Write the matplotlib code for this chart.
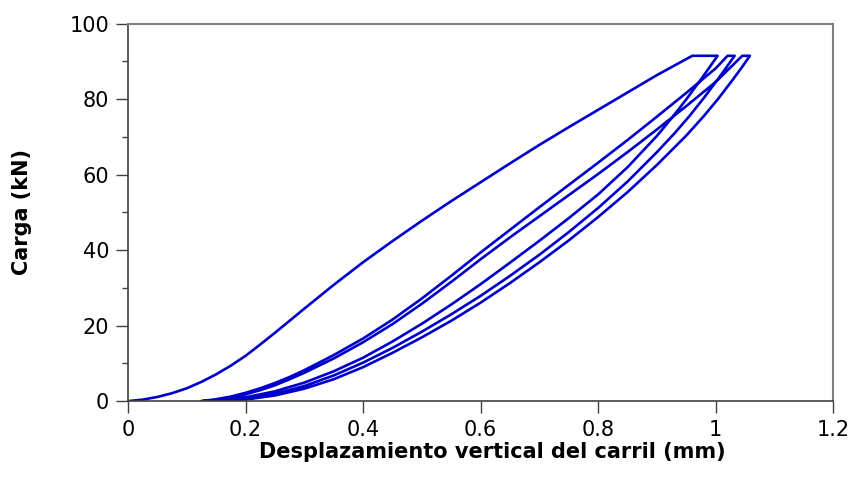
import numpy as np
import matplotlib.pyplot as plt

# first loading up to the peak load
x_load1 = [0, 0.025, 0.05, 0.075, 0.1, 0.125, 0.15, 0.175, 0.2, 0.225, 0.25, 0.275,
           0.3, 0.35, 0.4, 0.45, 0.5, 0.55, 0.6, 0.65, 0.7, 0.75, 0.8, 0.85, 0.9, 0.96]
y_load1 = [0, 0.4, 1.1, 2.1, 3.4, 5.1, 7.1, 9.4, 12.0, 15.0, 18.1, 21.3,
           24.5, 30.8, 36.8, 42.4, 47.8, 53.0, 58.0, 63.0, 67.9, 72.6, 77.2, 81.8, 86.4, 91.5]

# hold at peak load, then unloading
x_hold1 = [0.96, 1.003]
y_hold1 = [91.5, 91.5]
x_unl1 = [1.003, 0.99, 0.975, 0.95, 0.925, 0.9, 0.85, 0.8, 0.75, 0.7, 0.65, 0.6,
          0.55, 0.5, 0.45, 0.4, 0.35, 0.3, 0.25, 0.2, 0.175, 0.15, 0.125]
y_unl1 = [91.5, 88.6, 85.3, 80.0, 75.0, 70.3, 62.0, 54.8, 48.5, 42.5, 36.7, 31.0,
          25.6, 20.5, 15.8, 11.5, 7.9, 4.9, 2.6, 1.0, 0.5, 0.2, 0]

# second cycle
x_rel2 = [0.125, 0.15, 0.175, 0.2, 0.225, 0.25, 0.275, 0.3, 0.35, 0.4, 0.45, 0.5,
          0.55, 0.6, 0.65, 0.7, 0.75, 0.8, 0.85, 0.9, 0.95, 1.0, 1.02]
y_rel2 = [0, 0.5, 1.2, 2.2, 3.4, 4.8, 6.4, 8.2, 12.2, 16.6, 21.6, 27.2,
          33.2, 39.4, 45.4, 51.4, 57.3, 63.2, 69.2, 75.4, 81.7, 88.2, 91.5]
x_hold2 = [1.02, 1.032]
y_hold2 = [91.5, 91.5]
x_unl2 = [1.032, 1.02, 1.005, 0.98, 0.955, 0.93, 0.9, 0.85, 0.8, 0.75, 0.7, 0.65,
          0.6, 0.55, 0.5, 0.45, 0.4, 0.35, 0.3, 0.25, 0.2, 0.18, 0.16]
y_unl2 = [91.5, 88.9, 85.6, 80.4, 75.5, 71.0, 66.0, 58.2, 51.2, 44.8, 38.8, 33.2,
          27.9, 23.0, 18.4, 14.1, 10.2, 6.8, 4.0, 1.9, 0.6, 0.2, 0]

# third cycle
x_rel3 = [0.16, 0.2, 0.225, 0.25, 0.275, 0.3, 0.35, 0.4, 0.45, 0.5, 0.55, 0.6,
          0.65, 0.7, 0.75, 0.8, 0.85, 0.9, 0.95, 1.0, 1.045]
y_rel3 = [0, 1.8, 2.9, 4.2, 5.8, 7.5, 11.3, 15.6, 20.4, 25.8, 31.6, 37.6,
          43.4, 49.0, 54.6, 60.2, 66.0, 72.0, 78.2, 84.6, 91.5]
x_hold3 = [1.045, 1.058]
y_hold3 = [91.5, 91.5]
x_unl3 = [1.058, 1.045, 1.03, 1.005, 0.98, 0.95, 0.9, 0.85, 0.8, 0.75, 0.7, 0.65,
          0.6, 0.55, 0.5, 0.45, 0.4, 0.35, 0.3, 0.25, 0.2, 0.18]
y_unl3 = [91.5, 88.6, 85.4, 80.3, 75.6, 70.4, 62.6, 55.4, 48.8, 42.6, 36.8, 31.3,
          26.1, 21.3, 16.9, 12.8, 9.0, 5.8, 3.3, 1.5, 0.4, 0]

xs = [x_load1, x_hold1, x_unl1, x_rel2, x_hold2, x_unl2, x_rel3, x_hold3, x_unl3]
ys = [y_load1, y_hold1, y_unl1, y_rel2, y_hold2, y_unl2, y_rel3, y_hold3, y_unl3]
desp = np.concatenate(xs)
carga = np.concatenate(ys)

plt.rcParams['font.family'] = ['DejaVu Sans']

fig = plt.figure(figsize=(8.53, 4.94), dpi=100)
ax = fig.add_axes([0.150, 0.188, 0.827, 0.764])

ax.plot(desp, carga, color='#0000cc', lw=1.9)

ax.set_xlim(0, 1.2)
ax.set_ylim(0, 100)
ax.set_xticks(np.arange(0, 1.21, 0.2))
ax.set_xticklabels(['0', '0.2', '0.4', '0.6', '0.8', '1', '1.2'])
ax.set_yticks(np.arange(0, 101, 20))
ax.set_yticks(np.arange(10, 100, 20), minor=True)

ax.tick_params(axis='both', which='major', direction='out', length=8.5, width=1,
               labelsize=15, color='#404040')
ax.tick_params(axis='x', pad=5)
ax.tick_params(axis='y', pad=5)
ax.tick_params(axis='y', which='minor', direction='out', length=4.5, width=1,
               color='#404040')

for side in ['left', 'bottom']:
    ax.spines[side].set_color('#404040')
    ax.spines[side].set_linewidth(1.2)
for side in ['top', 'right']:
    ax.spines[side].set_color('#808080')
    ax.spines[side].set_linewidth(1.5)

ax.set_xlabel('Desplazamiento vertical del carril (mm)', fontsize=15,
              fontweight='bold', va='center')
ax.set_ylabel('Carga (kN)', fontsize=15, fontweight='bold', va='center')
ax.xaxis.set_label_coords(0.516, -0.135)
ax.yaxis.set_label_coords(-0.150, 0.50)

plt.savefig('out.png', dpi=100)
